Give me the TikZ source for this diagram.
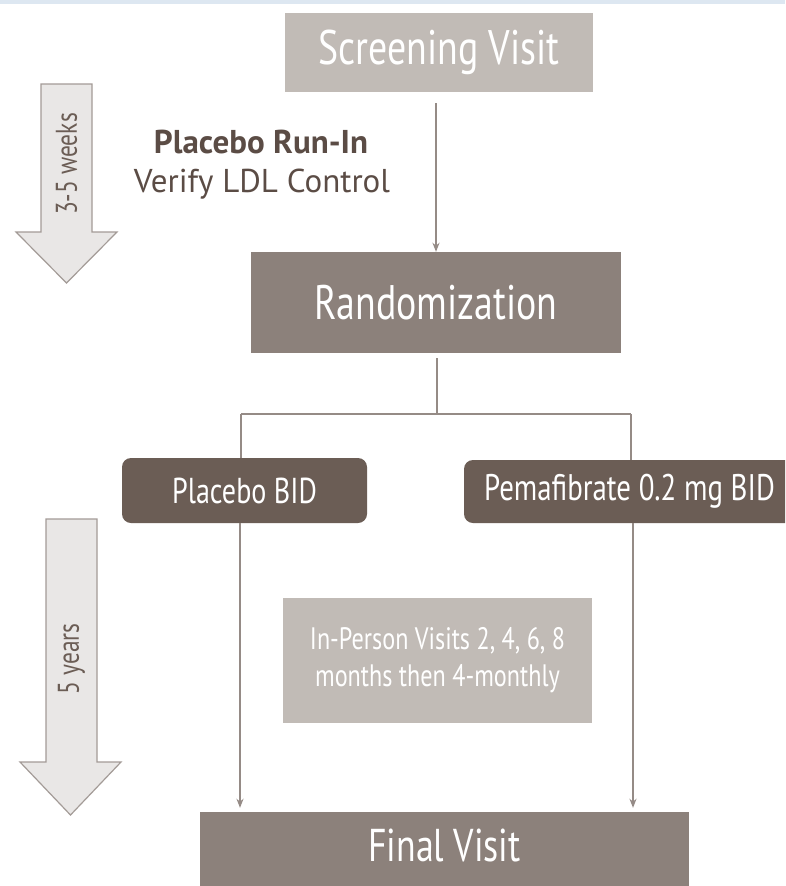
\documentclass[tikz,border=0pt]{standalone}
\usepackage{fontspec}
\setmainfont{PT Sans}
\newfontfamily\cond[FakeStretch=0.78]{PT Sans}
\usetikzlibrary{arrows.meta}
\definecolor{lightbox}{HTML}{C1BBB6}
\definecolor{midbox}{HTML}{8C817B}
\definecolor{darkbox}{HTML}{6B5D55}
\definecolor{linec}{HTML}{958B86}
\definecolor{bigfill}{HTML}{E9E7E6}
\definecolor{bigline}{HTML}{A39B97}
\definecolor{txt}{HTML}{5B4C45}
\definecolor{band}{HTML}{DDE7F1}
\tikzset{
  boxbase/.style={inner sep=0pt, text=white, font=\cond},
  lightnode/.style={boxbase, fill=lightbox},
  midnode/.style={boxbase, fill=midbox},
  darknode/.style={boxbase, fill=darkbox, rounded corners=9pt},
  conn/.style={draw=linec, line width=1.6pt},
  arr/.style={conn, -{Stealth[length=9pt,width=7pt]}},
  bigarrow/.style={fill=bigfill, draw=bigline, line width=1.2pt},
  sidelabel/.style={text=darkbox, font=\cond\fontsize{30}{30}\selectfont, inner sep=0pt}
}
\begin{document}
\begin{tikzpicture}[x=1pt,y=-1pt]
\clip (0,0) rectangle (785,886);
\fill[white] (0,0) rectangle (785,886);
\fill[band] (0,0) rectangle (785,4);

% boxes
\node[lightnode, minimum width=308pt, minimum height=79pt, font=\cond\fontsize{48.5}{48.5}\selectfont] (screen) at (439,52.5) {Screening Visit};
\node[midnode, minimum width=370pt, minimum height=101pt, font=\cond\fontsize{48.5}{48.5}\selectfont] (rand) at (436,302.5) {Randomization};
\node[darknode, minimum width=245pt, minimum height=65pt, font=\cond\fontsize{36}{36}\selectfont] (plac) at (244.5,490.5) {Placebo BID};
\node[darknode, minimum width=331pt, minimum height=63pt, font=\cond\fontsize{37}{37}\selectfont] (pema) at (629.5,491.5) {Pemafibrate 0.2 mg BID};
\node[lightnode, minimum width=309pt, minimum height=125pt, align=center, font=\cond\fontsize{31}{37}\selectfont] (visits) at (437.5,660.5) {In-Person Visits 2, 4, 6, 8\\months then 4-monthly};
\node[midnode, minimum width=489pt, minimum height=66pt, font=\cond\fontsize{46}{46}\selectfont] (final) at (444.5,845) {Final Visit};
\fill[midbox] (final.south west) rectangle ([yshift=-30pt]final.south east);

% run-in text
\node[text=txt, font=\bfseries\fontsize{33}{33}\selectfont, inner sep=0pt] (runin) at (261,142) {Placebo Run-In};
\node[text=txt, font=\fontsize{33}{33}\selectfont, inner sep=0pt] (verify) at (262,184) {Verify LDL Control};

% connectors
\draw[arr, shorten <=11pt] (rand.north |- screen.south) -- (rand.north);
\coordinate (split) at (437,414);
\coordinate (bl) at (241,414);
\coordinate (br) at (631,414);
\coordinate (la) at (240,414);
\coordinate (ra) at (633,414);
\draw[conn, shorten <=5pt] (split |- rand.south) -- (split);
\draw[conn] (bl) -- (br);
\draw[conn] (bl) -- (bl |- plac.north);
\draw[conn] (br) -- (br |- pema.north);
\draw[arr, shorten >=4pt] (la |- plac.south) -- (la |- final.north);
\draw[arr, shorten >=4pt] (ra |- pema.south) -- (ra |- final.north);

% big arrows
\draw[bigarrow] (41,84) -- (92,84) -- (92,232) -- (117,232) -- (66.5,283) -- (16,232) -- (41,232) -- cycle;
\node[sidelabel, rotate=90] (weeks) at (66.5,164) {3-5 weeks};
\draw[bigarrow] (46,519) -- (97,519) -- (97,762) -- (121,762) -- (70.5,815) -- (20,762) -- (46,762) -- cycle;
\node[sidelabel, rotate=90] (years) at (71.5,659) {5 years};
\end{tikzpicture}
\end{document}
